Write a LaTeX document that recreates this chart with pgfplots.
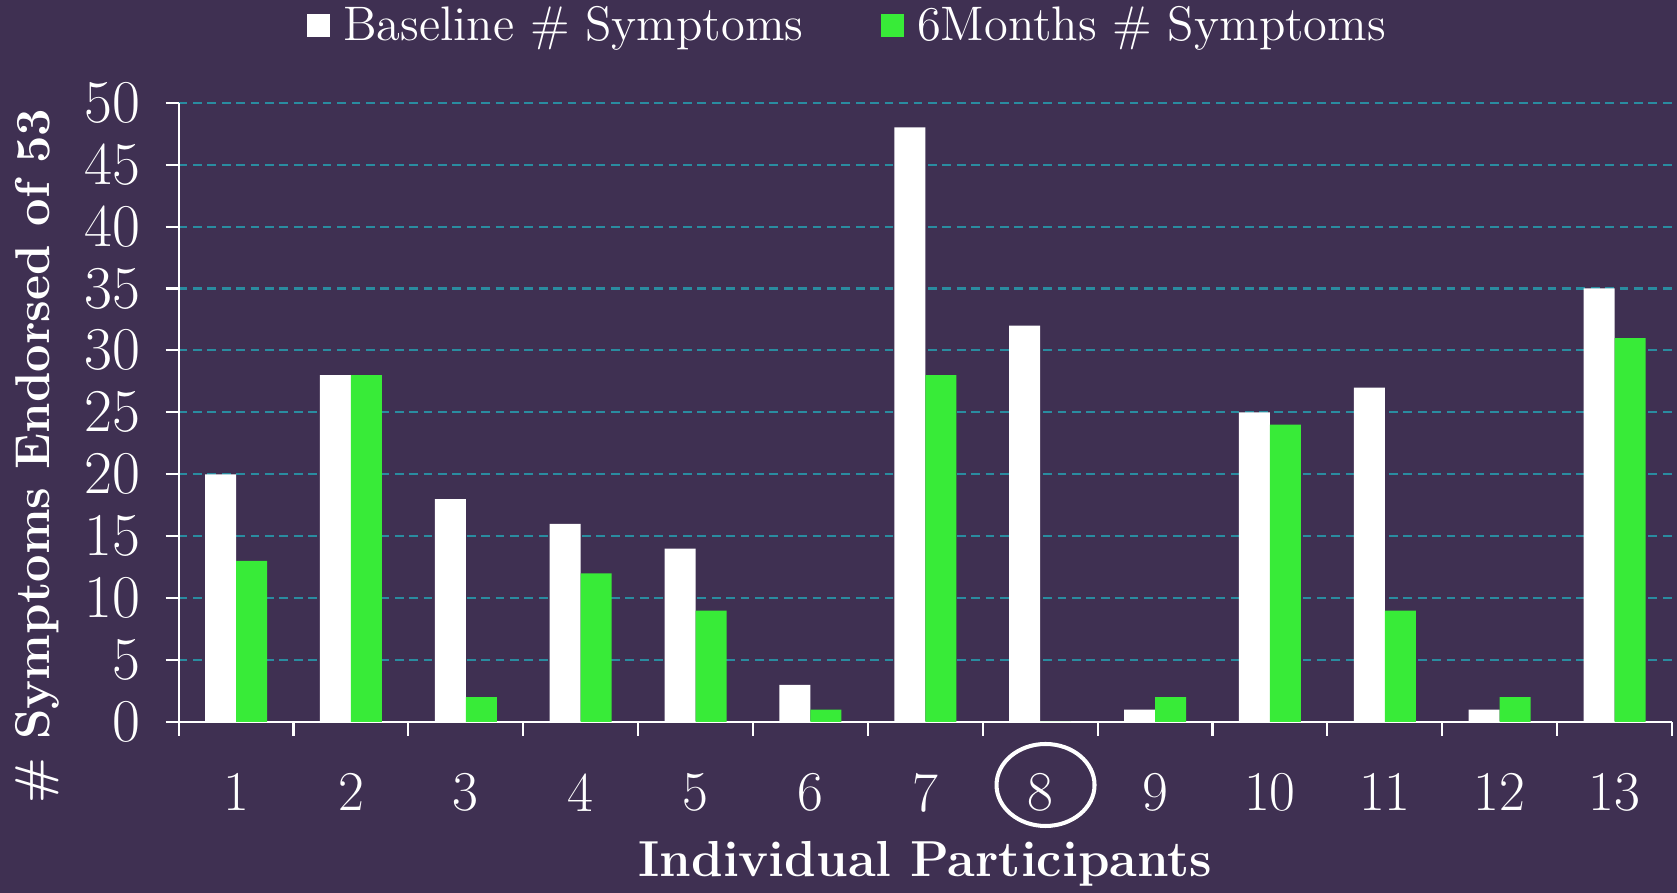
\documentclass[border=0pt]{standalone}
\usepackage{pgfplots}
\pgfplotsset{compat=1.18}
\definecolor{bg}{RGB}{63,48,82}
\definecolor{bargreen}{RGB}{56,235,56}
\definecolor{gridc}{RGB}{42,140,160}
\begin{document}
\begin{tikzpicture}
\fill[bg] (0,0) rectangle (16.77cm,8.93cm);
\useasboundingbox (0,0) rectangle (16.77cm,8.93cm);
\begin{axis}[
  at={(1.786cm,1.71cm)}, anchor=south west,
  scale only axis, width=14.934cm, height=6.193cm,
  xmin=0.5, xmax=13.5, ymin=0, ymax=50,
  axis lines*=left,
  axis line style={white, line width=0.6pt},
  ybar, bar width=0.31cm,
  xtick={1,...,13},
  xticklabels={1,2,3,4,5,6,7,8,9,10,11,12,13},
  minor xtick={0.5,1.5,...,13.5},
  major x tick style={draw=none},
  minor x tick style={white, line width=0.6pt},
  ytick={0,5,...,50},
  y tick style={white, line width=0.6pt},
  tick align=outside,
  major tick length=0.13cm, minor tick length=0.14cm,
  ymajorgrids,
  grid style={gridc, line width=0.6pt, dash pattern=on 2.5pt off 1.6pt},
  tick label style={white, font=\fontsize{16}{18}\selectfont},
  xticklabel style={yshift=-0.26cm},
  yticklabel style={xshift=-0.13cm},
  xlabel={\textbf{Individual Participants}},
  ylabel={\textbf{\# Symptoms Endorsed of 53}},
  xlabel style={white, font=\fontsize{14.4}{16}\selectfont, at={(axis description cs:0.5,-0.229)}, anchor=center},
  ylabel style={white, font=\fontsize{13.9}{16}\selectfont, at={(axis description cs:-0.0948,0.429)}, anchor=center},
  clip=false,
  legend columns=2,
  legend style={at={(0.4495,1.124)}, anchor=center, draw=none, fill=none,
    text=white, font=\fontsize{13.8}{15}\selectfont,
    /tikz/every even column/.append style={column sep=0.7cm}},
  sqlegend/.style={legend image code/.code={\fill[##1] (0cm,-0.115cm) rectangle (0.23cm,0.115cm); \path (0.295cm,0cm);}},
]
\addplot[fill=white, draw=none, bar shift=-0.155cm, sqlegend] coordinates {
 (1,20) (2,28) (3,18) (4,16) (5,14) (6,3) (7,48) (8,32) (9,1) (10,25) (11,27) (12,1) (13,35)};
\addlegendentry{Baseline \# Symptoms}
\addplot[fill=bargreen, draw=none, bar shift=0.155cm, sqlegend] coordinates {
 (1,13) (2,28) (3,2) (4,12) (5,9) (6,1) (7,28) (8,0) (9,2) (10,24) (11,9) (12,2) (13,31)};
\addlegendentry{6Months \# Symptoms}
\draw[white, line width=1.15pt] ([yshift=-0.63cm]rel axis cs:0.5805,0) ellipse [x radius=0.49cm, y radius=0.41cm];
\end{axis}
\end{tikzpicture}
\end{document}
